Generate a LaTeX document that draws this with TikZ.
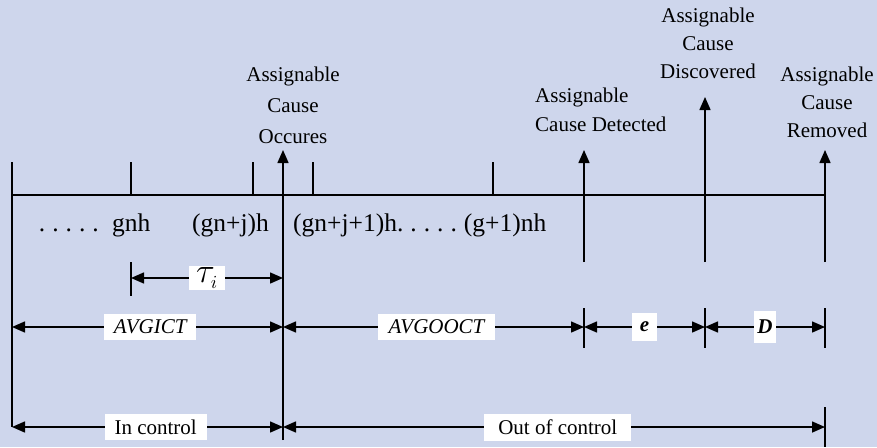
\documentclass[tikz,border=0pt]{standalone}
\usepackage{fontspec}
\setmainfont{Liberation Serif}
\usetikzlibrary{arrows.meta}
\definecolor{bgc}{RGB}{206,214,236}
\tikzset{
  ln/.style={line width=1.5pt, draw=black},
  tipup/.style={ln, -{Triangle[length=13pt,width=11pt]}},
  dim/.style={ln, {Triangle[length=13pt,width=11pt]}-{Triangle[length=13pt,width=11pt]}},
  lab/.style={font=\fontsize{21}{29}\selectfont, inner sep=0pt, align=center, anchor=north},
  num/.style={font=\fontsize{25.5}{30}\selectfont, inner sep=0pt, anchor=base west},
  dl/.style={font=\fontsize{21}{25}\selectfont, fill=white, inner ysep=6pt, inner xsep=10pt},
}
\begin{document}
\begin{tikzpicture}[x=1pt,y=-1pt]
\fill[bgc] (0,0) rectangle (877,447);
\useasboundingbox (0,0) rectangle (877,447);
% coordinates
\coordinate (axL) at (12,195);
\coordinate (axR) at (825,195);
\coordinate (lTop) at (12,162);
\coordinate (lBot) at (12,427);
\coordinate (k1t) at (131,162); \coordinate (k1b) at (131,195);
\coordinate (k2t) at (253,162); \coordinate (k2b) at (253,195);
\coordinate (k3t) at (313,162); \coordinate (k3b) at (313,195);
\coordinate (k4t) at (493,162); \coordinate (k4b) at (493,195);
\coordinate (occT) at (283,150); \coordinate (occB) at (283,440);
\coordinate (detT) at (584,150); \coordinate (detB) at (584,262);
\coordinate (disT) at (705,97);  \coordinate (disB) at (705,262);
\coordinate (remT) at (825,150); \coordinate (remB) at (825,262);
\coordinate (d1t) at (584,308); \coordinate (d1b) at (584,348);
\coordinate (d2t) at (705,308); \coordinate (d2b) at (705,348);
\coordinate (d3t) at (825,308); \coordinate (d3b) at (825,348);
\coordinate (d4t) at (825,407); \coordinate (d4b) at (825,447);
\coordinate (tkt) at (131,262); \coordinate (tkb) at (131,296);
\coordinate (tauL) at (131,278); \coordinate (tauR) at (283,278);
\coordinate (aL) at (12,327); \coordinate (aM) at (283,327);
\coordinate (aR) at (584,327); \coordinate (aE) at (705,327);
\coordinate (aD) at (825,327);
\coordinate (cL) at (12,427); \coordinate (cM) at (283,427);
\coordinate (cR) at (825,427);
% axis and ticks
\draw[ln] (axL) -- (axR);
\draw[ln] (lTop) -- (lBot);
\draw[ln] (k1t) -- (k1b);
\draw[ln] (k2t) -- (k2b);
\draw[ln] (k3t) -- (k3b);
\draw[ln] (k4t) -- (k4b);
\draw[ln] (tkt) -- (tkb);
\draw[ln] (d1t) -- (d1b);
\draw[ln] (d2t) -- (d2b);
\draw[ln] (d3t) -- (d3b);
\draw[ln] (d4t) -- (d4b);
% event arrows
\draw[tipup] (occB) -- (occT);
\draw[tipup] (detB) -- (detT);
\draw[tipup] (disB) -- (disT);
\draw[tipup] (remB) -- (remT);
% event labels
\node[lab, font=\fontsize{21}{31}\selectfont] (occL) at (293,67) {Assignable\\Cause\\Occures};
\node[lab, align=left, anchor=north west] (detL) at (535,88) {Assignable\\Cause Detected};
\node[lab, font=\fontsize{21}{28}\selectfont] (disL) at (708,8) {Assignable\\Cause\\Discovered};
\node[lab, font=\fontsize{21}{28}\selectfont] (remL) at (827,67) {Assignable\\Cause\\Removed};
% time labels
\node[num, anchor=base east] (n0) at (99,231) {.\hspace{7pt}.\hspace{7pt}.\hspace{7pt}.\hspace{7pt}.};
\node[num] (n1) at (112,231) {gnh};
\node[num] (n2) at (192,231) {(gn+j)h};
\node[num] (n3) at (293,231) {(gn+j+1)h.\hspace{7pt}.\hspace{7pt}.\hspace{7pt}.\hspace{7pt}.\hspace{7pt}(g+1)nh};
% dimension arrows
\draw[dim] (tauL) -- node[dl, pos=0.5, inner ysep=2pt, inner xsep=7pt] (tauLab) {\resizebox{22pt}{!}{$\tau_{\scriptscriptstyle i}$}} (tauR);
\draw[dim] (aL) -- node[dl, pos=0.51] (avgict) {\itshape AVGICT} (aM);
\draw[dim] (aM) -- node[dl, pos=0.51, inner xsep=11pt] (avgooct) {\itshape AVGOOCT} (aR);
\draw[dim] (aR) -- node[dl, pos=0.5, inner xsep=8pt, inner ysep=9pt] (eLab) {\bfseries\itshape e} (aE);
\draw[dim] (aE) -- node[dl, pos=0.5, inner xsep=3pt, inner ysep=9pt] (dLab) {\bfseries\itshape D} (aD);
\draw[dim] (cL) -- node[dl, pos=0.53] (inc) {In control} (cM);
\draw[dim] (cM) -- node[dl, pos=0.507, inner xsep=14pt] (outc) {Out of control} (cR);
\end{tikzpicture}
\end{document}
